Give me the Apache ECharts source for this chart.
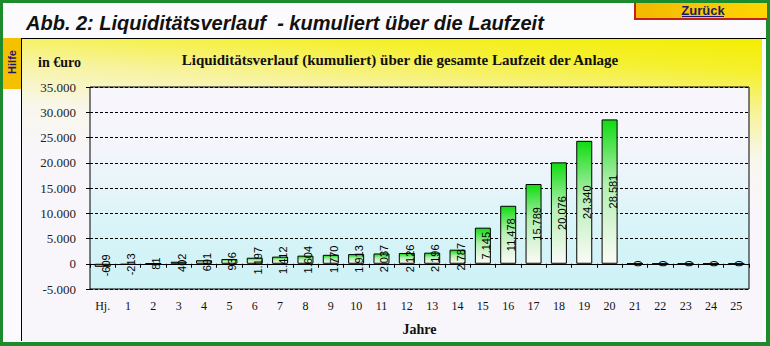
<!DOCTYPE html>
<html>
<head>
<meta charset="utf-8">
<title>Liquiditätsverlauf</title>
<script src="https://cdn.jsdelivr.net/npm/echarts@6/dist/echarts.min.js"></script>
<style>
  html, body { margin: 0; padding: 0; background: #fff; }
  #chart { width: 770px; height: 346px; }
</style>
</head>
<body>
<div id="chart"></div>
<script>
// Years of the investment: half-year start, then years 1..25
const years = ['Hj.', '1', '2', '3', '4', '5', '6', '7', '8', '9', '10', '11', '12',
  '13', '14', '15', '16', '17', '18', '19', '20', '21', '22', '23', '24', '25'];

// Cumulative liquidity in euro at the end of each period
const liquidity = [-609, -213, 81, 402, 691, 936, 1197, 1412, 1604, 1770, 1913, 2037, 2126,
  2196, 2787, 7145, 11478, 15789, 20076, 24340, 28581, 0, 0, 0, 0, 0];

// Value axis ticks
const yMin = -5000;
const yMax = 35000;
const yStep = 5000;

const pageTitle = 'Abb. 2: Liquiditätsverlauf  - kumuliert über die Laufzeit';
const chartTitle = 'Liquiditätsverlauf (kumuliert) über die gesamte Laufzeit der Anlage';
const unitLabel = 'in €uro';
const axisName = 'Jahre';

const SERIF = '"Liberation Serif", "Times New Roman", serif';
const SANS = '"Liberation Sans", Arial, sans-serif';

// German thousands separator: 28581 -> 28.581
function fmtDe(v) {
  const s = Math.abs(v).toString().replace(/\B(?=(\d{3})+(?!\d))/g, '.');
  return (v < 0 ? '-' : '') + s;
}

const G = echarts.graphic;
const greenFill = new G.LinearGradient(0, 0, 0, 1, [
  { offset: 0, color: '#10dc10' },
  { offset: 0.45, color: '#b4efb4' },
  { offset: 1, color: '#fbfbf6' }
]);
const tanFill = new G.LinearGradient(0, 0, 0, 1, [
  { offset: 0, color: '#b08a58' },
  { offset: 1, color: '#d8bf94' }
]);

const barData = liquidity.map(v => ({
  value: v,
  itemStyle: { color: v < 0 ? tanFill : greenFill }
}));

const chart = echarts.init(document.getElementById('chart'), null, { renderer: 'svg' });

chart.setOption({
  animation: false,
  backgroundColor: '#1d8a2b',
  graphic: [
    // inner page
    { type: 'rect', z: -10, shape: { x: 3, y: 3, width: 763, height: 339 }, style: { fill: '#fbfafd' } },
    // chart panel with yellow corner glow
    { type: 'rect', z: -9, shape: { x: 22, y: 39, width: 740, height: 302 },
      style: { fill: new G.LinearGradient(0.9, 0.55, 1, 0, [
        { offset: 0, color: '#f8f6fb' },
        { offset: 0.3, color: '#f8f7ec' },
        { offset: 0.55, color: '#f7f3a0' },
        { offset: 0.8, color: '#f5f030' },
        { offset: 1, color: '#f3ee00' }
      ]) } },
    { type: 'line', z: -8, shape: { x1: 21, y1: 38.5, x2: 766, y2: 38.5 }, style: { stroke: '#000', lineWidth: 1 } },
    { type: 'line', z: -8, shape: { x1: 21.5, y1: 38, x2: 21.5, y2: 341 }, style: { stroke: '#000', lineWidth: 1 } },
    // page heading
    { type: 'text', x: 26, y: 23, style: { text: pageTitle, fill: '#111',
      font: 'italic bold 20px ' + SANS, verticalAlign: 'middle' } },
    // back button
    { type: 'rect', shape: { x: 634, y: 3, width: 133, height: 16 },
      style: { fill: new G.LinearGradient(0, 0, 1, 0, [
        { offset: 0, color: '#f2b800' }, { offset: 1, color: '#ffd600' }
      ]) } },
    { type: 'line', shape: { x1: 635, y1: 3, x2: 635, y2: 19 }, style: { stroke: '#c42218', lineWidth: 2 } },
    { type: 'line', shape: { x1: 634, y1: 19, x2: 767, y2: 19 }, style: { stroke: '#c42218', lineWidth: 2 } },
    { type: 'text', x: 703, y: 10, style: { text: 'Zurück', fill: '#1c1c6a',
      font: 'bold 13px ' + SANS, align: 'center', verticalAlign: 'middle' } },
    { type: 'line', shape: { x1: 682, y1: 16.5, x2: 724, y2: 16.5 }, style: { stroke: '#1c1c6a', lineWidth: 1 } },
    // help button
    { type: 'rect', shape: { x: 3, y: 38, width: 18, height: 51 }, style: { fill: '#f5c000' } },
    { type: 'text', x: 12, y: 62, rotation: Math.PI / 2, style: { text: 'Hilfe', fill: '#1c1c6a',
      font: 'bold 11px ' + SANS, align: 'center', verticalAlign: 'middle' } },
    // chart heading and unit
    { type: 'text', x: 400, y: 60, style: { text: chartTitle, fill: '#111',
      font: 'bold 15px ' + SERIF, align: 'center', verticalAlign: 'middle' } },
    { type: 'text', x: 38, y: 62, style: { text: unitLabel, fill: '#111',
      font: 'bold 14px ' + SERIF, verticalAlign: 'middle' } }
  ],
  grid: {
    left: 90, top: 87, width: 659, height: 202,
    outerBoundsMode: 'none',
    containLabel: false,
    show: true,
    borderColor: '#000', borderWidth: 1,
    backgroundColor: new G.LinearGradient(0, 0, 0, 1, [
      { offset: 0, color: '#f8f6fb' },
      { offset: 0.3, color: '#f4f5fb' },
      { offset: 0.7, color: '#d8f4f8' },
      { offset: 1, color: '#cdf2f6' }
    ])
  },
  xAxis: {
    type: 'category',
    data: years,
    axisLine: { onZero: true, lineStyle: { color: '#000', width: 1 } },
    axisTick: { show: true, length: 4, lineStyle: { color: '#000' } },
    axisLabel: { margin: 11, color: '#111', fontSize: 12, fontFamily: SERIF },
    name: axisName,
    nameLocation: 'middle',
    nameGap: 33,
    nameTextStyle: { color: '#111', fontSize: 14, fontWeight: 'bold', fontFamily: SERIF }
  },
  yAxis: {
    type: 'value',
    min: yMin, max: yMax, interval: yStep,
    axisLine: { show: false },
    axisTick: { show: true, length: 4, lineStyle: { color: '#000' } },
    axisLabel: { margin: 14, color: '#222', fontSize: 13, fontFamily: SERIF,
      formatter: v => fmtDe(v) },
    splitLine: { show: true, lineStyle: { color: '#000', type: [3, 2], width: 1 } }
  },
  series: [{
    type: 'bar',
    data: barData,
    barWidth: 16,
    itemStyle: { borderColor: '#000', borderWidth: 1 },
    label: {
      show: true,
      position: 'inside',
      rotate: 90,
      offset: [0, 3],
      color: '#000',
      fontSize: 11,
      fontFamily: SANS,
      formatter: p => fmtDe(p.value)
    }
  }]
});
</script>
</body>
</html>
